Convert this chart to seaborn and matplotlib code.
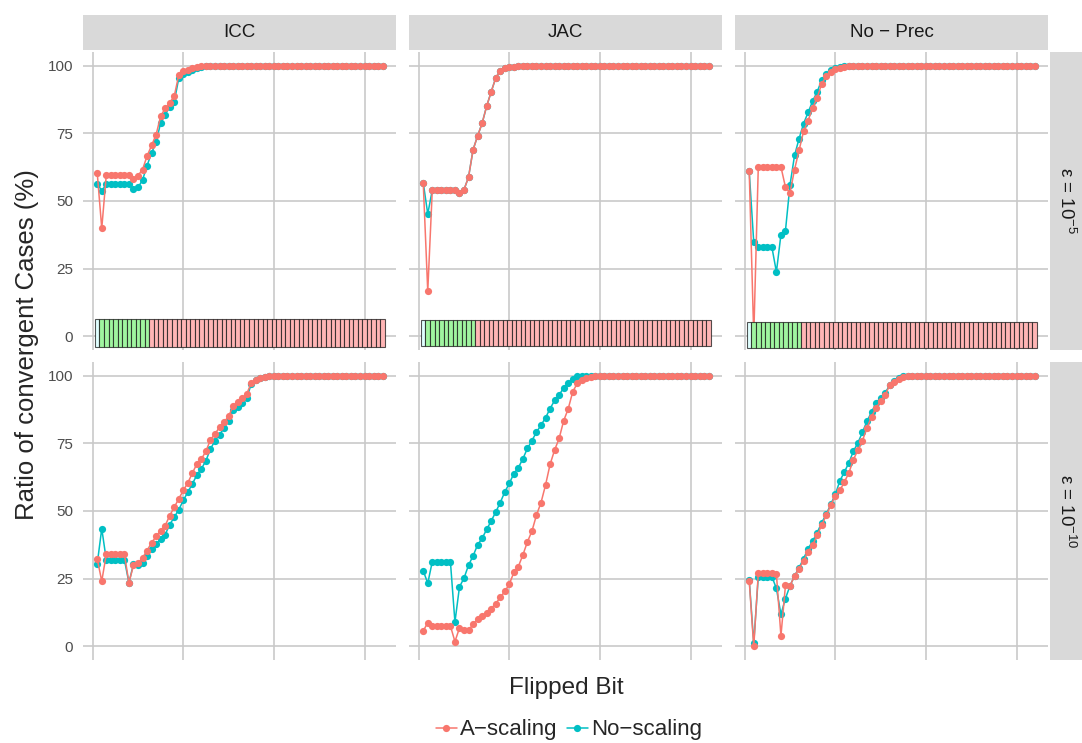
import pandas as pd
import matplotlib
matplotlib.use('Agg')
import matplotlib.pyplot as plt
from matplotlib.lines import Line2D
import seaborn as sns

sns.set_style('white')
plt.rcParams['font.family'] = ['Liberation Sans', 'DejaVu Sans']
plt.rcParams['mathtext.fontset'] = 'custom'
plt.rcParams['mathtext.rm'] = 'Liberation Sans'

# ---------------- data ----------------
bits = list(range(1, 65))
methods = ['ICC', 'JAC', 'No-Prec']
method_labels = ['ICC', 'JAC', 'No − Prec']
eps_levels = ['1e-5', '1e-10']
eps_labels = ['ε = 10$^{-5}$', 'ε = 10$^{-10}$']

# bit layout of a double: 1 sign, 11 exponent, 52 mantissa
bit_field = ['sign'] + ['exponent'] * 11 + ['mantissa'] * 52

icc_5_a = [60.4, 39.9, 59.6, 59.6, 59.6, 59.6, 59.6, 59.6, 58.2, 59.4, 61.6, 66.6, 70.5, 74.5, 81.3, 84.2,
           86.3, 88.7, 96.5, 98.0, 98.5, 99.0, 99.5, 100, 100, 100, 100, 100, 100, 100, 100, 100,
           100, 100, 100, 100, 100, 100, 100, 100, 100, 100, 100, 100, 100, 100, 100, 100,
           100, 100, 100, 100, 100, 100, 100, 100, 100, 100, 100, 100, 100, 100, 100, 100]
icc_5_n = [56.4, 53.8, 56.1, 56.1, 56.1, 56.1, 56.1, 56.1, 54.5, 55.0, 57.7, 63.1, 67.7, 71.8, 78.8, 81.9,
           84.8, 86.6, 95.3, 97.0, 97.5, 98.5, 99.0, 99.5, 100, 100, 100, 100, 100, 100, 100, 100,
           100, 100, 100, 100, 100, 100, 100, 100, 100, 100, 100, 100, 100, 100, 100, 100,
           100, 100, 100, 100, 100, 100, 100, 100, 100, 100, 100, 100, 100, 100, 100, 100]
jac_5_a = [56.8, 16.7, 54.1, 54.1, 54.1, 54.1, 54.1, 54.1, 52.8, 54.2, 58.8, 68.9, 74.0, 78.7, 85.0, 90.3,
           95.4, 98.1, 99.0, 99.3, 99.5, 99.7, 100, 100, 100, 100, 100, 100, 100, 100, 100, 100,
           100, 100, 100, 100, 100, 100, 100, 100, 100, 100, 100, 100, 100, 100, 100, 100,
           100, 100, 100, 100, 100, 100, 100, 100, 100, 100, 100, 100, 100, 100, 100, 100]
jac_5_n = [56.8, 45.2, 54.1, 54.1, 54.1, 54.1, 54.1, 54.1, 52.8, 54.2, 58.8, 68.9, 74.0, 78.7, 85.0, 90.3,
           95.4, 98.1, 99.0, 99.3, 99.5, 99.7, 100, 100, 100, 100, 100, 100, 100, 100, 100, 100,
           100, 100, 100, 100, 100, 100, 100, 100, 100, 100, 100, 100, 100, 100, 100, 100,
           100, 100, 100, 100, 100, 100, 100, 100, 100, 100, 100, 100, 100, 100, 100, 100]
nop_5_a = [60.9, 0.0, 62.6, 62.6, 62.6, 62.6, 62.6, 62.6, 55.1, 53.0, 61.6, 68.7, 75.7, 79.7, 84.4, 88.1,
           93.3, 96.0, 97.8, 98.6, 99.0, 99.4, 99.7, 100, 100, 100, 100, 100, 100, 100, 100, 100,
           100, 100, 100, 100, 100, 100, 100, 100, 100, 100, 100, 100, 100, 100, 100, 100,
           100, 100, 100, 100, 100, 100, 100, 100, 100, 100, 100, 100, 100, 100, 100, 100]
nop_5_n = [60.9, 34.7, 33.0, 33.0, 33.0, 33.0, 23.8, 37.6, 39.1, 55.9, 66.8, 73.0, 78.6, 82.7, 86.9, 90.3,
           94.7, 96.9, 98.3, 99.0, 99.4, 99.7, 100, 100, 100, 100, 100, 100, 100, 100, 100, 100,
           100, 100, 100, 100, 100, 100, 100, 100, 100, 100, 100, 100, 100, 100, 100, 100,
           100, 100, 100, 100, 100, 100, 100, 100, 100, 100, 100, 100, 100, 100, 100, 100]

icc_10_a = [32.3, 24.1, 34.0, 34.0, 34.0, 34.0, 34.0, 23.5, 29.9, 30.8, 32.7, 35.4, 38.3, 40.6, 42.8, 44.6,
            48.3, 51.4, 54.5, 57.6, 60.4, 64.0, 67.4, 69.2, 72.1, 76.3, 78.5, 80.9, 82.8, 85.0, 88.7, 90.2,
            91.6, 93.2, 97.3, 98.5, 99.1, 99.6, 100, 100, 100, 100, 100, 100, 100, 100, 100, 100,
            100, 100, 100, 100, 100, 100, 100, 100, 100, 100, 100, 100, 100, 100, 100, 100]
icc_10_n = [30.5, 43.5, 32.0, 32.0, 32.0, 32.0, 32.0, 23.5, 30.5, 29.9, 30.8, 33.3, 36.0, 37.9, 39.5, 41.3,
            45.0, 47.7, 50.5, 53.9, 57.0, 60.0, 63.3, 65.6, 68.6, 72.9, 76.0, 78.2, 80.6, 83.4, 87.1, 88.3,
            89.9, 91.6, 96.9, 98.2, 99.0, 99.5, 100, 100, 100, 100, 100, 100, 100, 100, 100, 100,
            100, 100, 100, 100, 100, 100, 100, 100, 100, 100, 100, 100, 100, 100, 100, 100]
jac_10_a = [5.7, 8.8, 7.6, 7.6, 7.6, 7.6, 7.6, 1.8, 6.8, 6.1, 5.9, 8.2, 10.1, 11.1, 12.5, 14.0,
            15.8, 18.1, 20.3, 23.0, 27.3, 29.5, 33.8, 38.6, 42.6, 48.5, 53.1, 59.6, 67.2, 72.5, 76.8, 83.3,
            87.7, 94.0, 97.1, 98.3, 99.1, 99.4, 99.8, 100, 100, 100, 100, 100, 100, 100, 100, 100,
            100, 100, 100, 100, 100, 100, 100, 100, 100, 100, 100, 100, 100, 100, 100, 100]
jac_10_n = [28.0, 23.3, 31.3, 31.3, 31.3, 31.3, 31.3, 9.0, 22.0, 25.2, 30.0, 33.4, 37.5, 39.9, 43.2, 46.3,
            49.6, 53.1, 57.0, 60.2, 63.8, 66.0, 69.3, 73.1, 76.0, 79.1, 81.7, 84.4, 87.8, 90.8, 92.8, 95.5,
            97.3, 98.9, 99.8, 100, 100, 100, 100, 100, 100, 100, 100, 100, 100, 100, 100, 100,
            100, 100, 100, 100, 100, 100, 100, 100, 100, 100, 100, 100, 100, 100, 100, 100]
nop_10_a = [24.2, 0.0, 27.0, 27.0, 27.0, 27.0, 26.7, 3.9, 22.6, 22.4, 26.0, 28.7, 31.6, 34.9, 37.5, 41.0,
            44.8, 48.4, 52.2, 55.5, 57.6, 60.7, 64.1, 69.0, 72.5, 76.0, 80.7, 84.8, 88.1, 90.5, 92.8, 96.4,
            97.5, 98.8, 99.5, 100, 100, 100, 100, 100, 100, 100, 100, 100, 100, 100, 100, 100,
            100, 100, 100, 100, 100, 100, 100, 100, 100, 100, 100, 100, 100, 100, 100, 100]
nop_10_n = [24.6, 1.2, 25.8, 25.8, 25.8, 25.8, 21.4, 11.9, 17.7, 22.4, 26.0, 29.1, 32.4, 36.1, 38.9, 42.0,
            45.7, 48.8, 52.5, 56.1, 61.1, 64.4, 67.8, 72.1, 75.2, 79.1, 83.2, 86.5, 89.9, 91.8, 93.6, 96.4,
            97.9, 99.1, 100, 100, 100, 100, 100, 100, 100, 100, 100, 100, 100, 100, 100, 100,
            100, 100, 100, 100, 100, 100, 100, 100, 100, 100, 100, 100, 100, 100, 100, 100]

series = {
    ('ICC', '1e-5'): (icc_5_a, icc_5_n),
    ('JAC', '1e-5'): (jac_5_a, jac_5_n),
    ('No-Prec', '1e-5'): (nop_5_a, nop_5_n),
    ('ICC', '1e-10'): (icc_10_a, icc_10_n),
    ('JAC', '1e-10'): (jac_10_a, jac_10_n),
    ('No-Prec', '1e-10'): (nop_10_a, nop_10_n),
}

# long table for seaborn
rows = []
for (m, e), (a_vals, n_vals) in series.items():
    for b, va, vn in zip(bits, a_vals, n_vals):
        rows.append((m, e, 'A-scaling', b, va))
        rows.append((m, e, 'No-scaling', b, vn))
df = pd.DataFrame(rows, columns=['method', 'eps', 'scaling', 'bit', 'ratio'])

pal = {'A-scaling': '#F8766D', 'No-scaling': '#00BFC4'}
field_colors = {'sign': '#E0FFFF', 'exponent': '#A0F5A0', 'mantissa': '#FFB5B5'}
# vertical extent of the bit strip (bottom, top) per method
tile_extent = {'ICC': (-3.8, 6.5), 'JAC': (-3.7, 6.1), 'No-Prec': (-4.3, 5.2)}

# ---------------- layout (pixels) ----------------
W, H = 1082, 743
cols = [(83, 396), (409, 722), (735, 1048)]
prow = [(52, 350), (362, 660)]


def rect(x0, x1, y0, y1):
    return [x0 / W, 1 - y1 / H, (x1 - x0) / W, (y1 - y0) / H]


fig = plt.figure(figsize=(W / 100, H / 100), dpi=100)

for r, eps in enumerate(eps_levels):
    for c, m in enumerate(methods):
        ax = fig.add_axes(rect(*cols[c], *prow[r]))
        sub = df[(df['method'] == m) & (df['eps'] == eps)]
        sns.lineplot(data=sub, x='bit', y='ratio', hue='scaling',
                     hue_order=['No-scaling', 'A-scaling'], palette=pal,
                     marker='o', markersize=5.2, markeredgewidth=0,
                     linewidth=1.1, errorbar=None, legend=False, ax=ax, zorder=2)
        if r == 0:
            lo, hi = tile_extent[m]
            ax.bar(bits, hi - lo, bottom=lo, width=1.0,
                   color=[field_colors[f] for f in bit_field],
                   edgecolor=(0.1, 0.1, 0.1, 0.75), linewidth=0.8, zorder=3)
        ax.set_xlim(-2.14, 66.95)
        ax.set_ylim(-5, 105)
        ax.set_xticks([0, 20, 40, 60])
        ax.set_yticks([0, 25, 50, 75, 100])
        ax.grid(True, color='#C9C9C9', linewidth=1.2)
        ax.set_axisbelow(True)
        for s in ax.spines.values():
            s.set_visible(False)
        ax.set_xlabel('')
        ax.set_ylabel('')
        ax.tick_params(axis='x', labelbottom=False,
                       length=5 if r == 1 else 0, width=1, color='#333333')
        if c == 0:
            ax.tick_params(axis='y', length=4, width=1, color='#333333',
                           labelsize=11, labelcolor='#4D4D4D', pad=3)
        else:
            ax.tick_params(axis='y', length=0, labelleft=False)

# facet strips
for c, lab in enumerate(method_labels):
    sax = fig.add_axes(rect(*cols[c], 15, 50))
    sax.set_facecolor('#D9D9D9')
    sax.set_xticks([])
    sax.set_yticks([])
    for s in sax.spines.values():
        s.set_visible(False)
    sax.text(0.5, 0.5, lab, ha='center', va='center', fontsize=13.5, color='#1A1A1A')

for r, lab in enumerate(eps_labels):
    sax = fig.add_axes(rect(1050, 1082, *prow[r]))
    sax.set_facecolor('#D9D9D9')
    sax.set_xticks([])
    sax.set_yticks([])
    for s in sax.spines.values():
        s.set_visible(False)
    sax.text(0.5, 0.5, lab, ha='center', va='center', rotation=-90,
             fontsize=13.5, color='#1A1A1A')

fig.text(566 / W, 1 - 688 / H, 'Flipped Bit', ha='center', va='center', fontsize=17.5)
fig.text(27 / W, 1 - 345 / H, 'Ratio of convergent Cases (%)', ha='center', va='center',
         rotation=90, fontsize=18.5)

handles = [Line2D([0], [0], color=pal[k], marker='o', markersize=5.2,
                  markeredgewidth=0, linewidth=1.1) for k in ['A-scaling', 'No-scaling']]
fig.legend(handles, ['A−scaling', 'No−scaling'], loc='center',
           bbox_to_anchor=(569 / W, 1 - 730 / H), ncol=2, frameon=False, fontsize=16,
           handlelength=0.95, handletextpad=0.15, columnspacing=0.4)

fig.savefig('out.png', dpi=100)
